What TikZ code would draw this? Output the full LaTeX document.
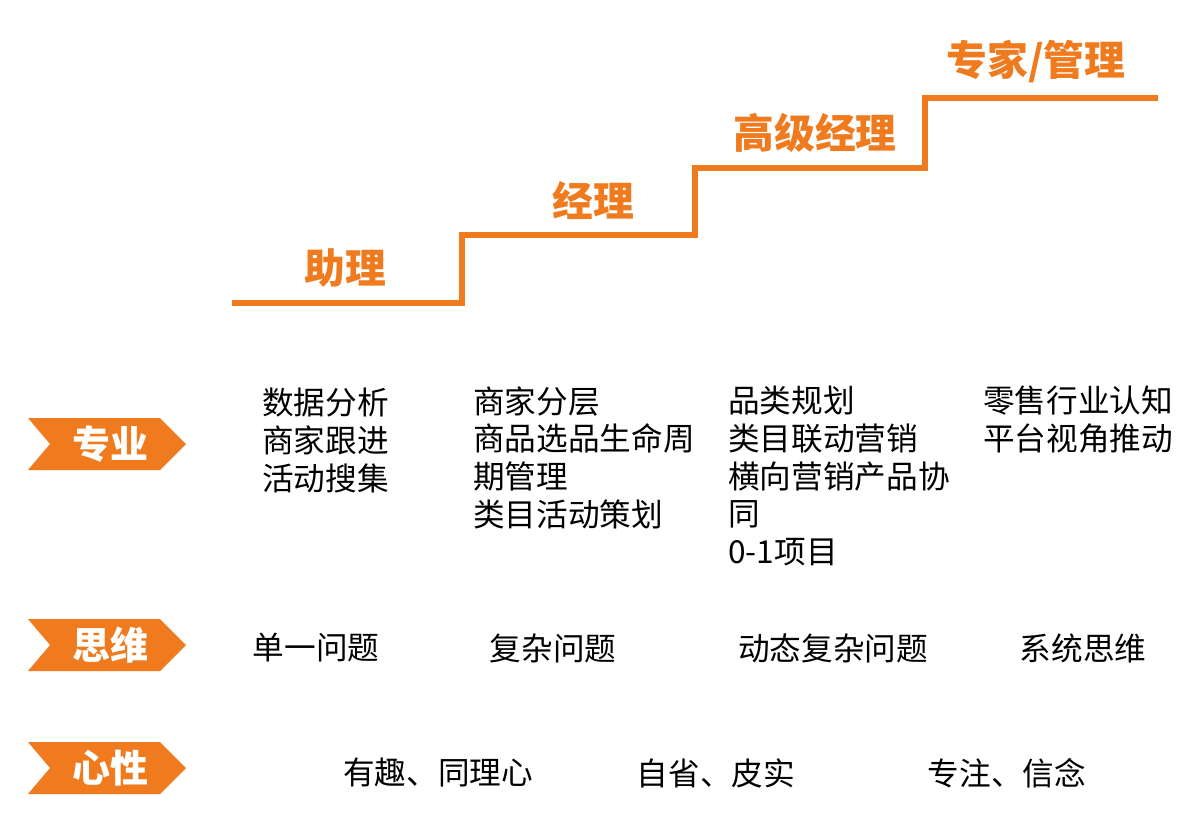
\documentclass[tikz,border=0pt]{standalone}
\usepackage{fontspec}
\newfontfamily\cjk{Noto Sans CJK SC}
\newcommand{\cjkbold}{\cjk\bfseries}
\definecolor{stairorange}{HTML}{F07A1E}
\tikzset{
  x=0.025cm, y=-0.025cm,
  level/.style={text=stairorange, font=\cjkbold\fontsize{29}{34}\selectfont},
  tagtext/.style={text=white, font=\cjkbold\fontsize{27}{32}\selectfont},
  itemcol/.style={anchor=north west, align=left, inner sep=0pt, font=\cjk\fontsize{22.5}{26.8}\selectfont},
  rowtext/.style={font=\cjk\fontsize{22.5}{26}\selectfont},
}
\begin{document}
\begin{tikzpicture}
  \useasboundingbox (0,0) rectangle (1204,834);
  % staircase
  \coordinate (s0) at (232,303);
  \coordinate (s1) at (1158,98);
  \draw[stairorange, line width=3.6pt]
    (s0) -- (462,303) -- (462,235) -- (695,235) -- (695,168)
    -- (925,168) -- (925,98) -- (s1);
  \node[level] (assist) at (345,268) {助理};
  \node[level] (mgr) at (593,200) {经理};
  \node[level] (senior) at (815,133) {高级经理};
  \node[level] (expert) at (1036,62) {专家/管理};
  % row tags
  \foreach \yy/\name/\txt in {444/prof/专业, 645/think/思维, 768/mind/心性}{
    \fill[stairorange] (28,\yy-26) -- (160,\yy-26) -- (186,\yy) -- (160,\yy+26)
      -- (28,\yy+26) -- (50,\yy) -- cycle;
    \node[tagtext] (\name) at (110,\yy) {\txt};
  }
  % professional skills
  \node[itemcol] (p1) at (262,388) {数据分析\\商家跟进\\活动搜集};
  \node[itemcol] (p2) at (473,386) {商家分层\\商品选品生命周\\期管理\\类目活动策划};
  \node[itemcol] (p3) at (728,386) {品类规划\\类目联动营销\\横向营销产品协\\同\\0-1项目};
  \node[itemcol] (p4) at (983,386) {零售行业认知\\平台视角推动};
  % thinking
  \node[rowtext] (t1) at (316,648) {单一问题};
  \node[rowtext] (t2) at (553,648) {复杂问题};
  \node[rowtext] (t3) at (833,648) {动态复杂问题};
  \node[rowtext] (t4) at (1083,648) {系统思维};
  % mindset
  \node[rowtext] (m1) at (438,773) {有趣、同理心};
  \node[rowtext] (m2) at (716,773) {自省、皮实};
  \node[rowtext] (m3) at (1007,773) {专注、信念};
\end{tikzpicture}
\end{document}
